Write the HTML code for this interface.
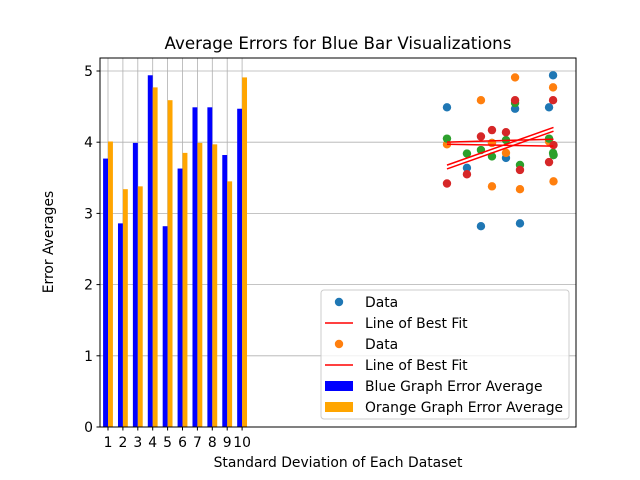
<!DOCTYPE html>
<html><head><meta charset="utf-8"><style>
body{margin:0;background:#fff}
svg{display:block;font-family:"DejaVu Sans","Liberation Sans",sans-serif}
</style></head><body>
<svg id="chart" width="640" height="480">
<rect width="640" height="480" fill="#fff"/>
<g id="grid"></g>
<g id="bars"></g>
<g id="scatter"></g>
<g id="fits"></g>
<rect x="100" y="58" width="476" height="369" fill="none" stroke="#000" stroke-width="1"/>
<g id="ticks"></g>
<text x="338" y="49" font-size="16.7" text-anchor="middle">Average Errors for Blue Bar Visualizations</text>
<text x="338" y="467" font-size="13.9" text-anchor="middle">Standard Deviation of Each Dataset</text>
<text transform="translate(53,242) rotate(-90)" font-size="13.9" text-anchor="middle">Error Averages</text>
<g>
<rect x="321" y="290" width="248" height="129" rx="3" fill="#fff" fill-opacity="0.8" stroke="#ccc"/>
<g><circle cx="339" cy="302" r="4.2" fill="#1f77b4"/><text x="365" y="307" font-size="13.9">Data</text></g>
<g><line x1="325" x2="353" y1="323" y2="323" stroke="red" stroke-width="1.5"/><text x="365" y="328" font-size="13.9">Line of Best Fit</text></g>
<g><circle cx="339" cy="344" r="4.2" fill="#ff7f0e"/><text x="365" y="349" font-size="13.9">Data</text></g>
<g><line x1="325" x2="353" y1="365" y2="365" stroke="red" stroke-width="1.5"/><text x="365" y="370" font-size="13.9">Line of Best Fit</text></g>
<g><rect x="325" y="381" width="28" height="10" fill="#0000ff"/><text x="365" y="391" font-size="13.9">Blue Graph Error Average</text></g>
<g><rect x="325" y="402" width="28" height="10" fill="#ffa500"/><text x="365" y="412" font-size="13.9">Orange Graph Error Average</text></g>
</g>
</svg>
<script>
const categories=[1,2,3,4,5,6,7,8,9,10];
const blueValues=[3.77,2.86,3.99,4.94,2.82,3.63,4.49,4.49,3.82,4.47];
const orangeValues=[4.01,3.34,3.38,4.77,4.59,3.85,3.99,3.97,3.45,4.91];
const yTicks=[0,1,2,3,4,5];
const blueX=[23.75,25.09,26.03,26.77,27.71,28.32,28.65,30.6,30.87,30.9];
const blueY=[4.49,3.64,2.82,3.99,3.78,4.47,2.86,4.49,4.94,3.82];
const orangeX=[23.75,26.03,26.77,28.32,28.65,30.87,30.9,30.6,27.71,26.77];
const orangeY=[3.97,4.59,3.38,4.91,3.34,4.77,3.45,4.01,3.85,3.99];
const greenX=[23.75,25.09,26.03,26.77,27.71,28.32,28.65,30.6,30.9,30.87];
const greenY=[4.05,3.84,3.89,3.8,4.03,4.55,3.68,4.05,3.82,3.85];
const redX=[23.75,25.09,26.03,26.77,27.71,28.32,28.65,30.6,30.87,30.9];
const redY=[3.42,3.55,4.08,4.17,4.14,4.59,3.61,3.72,4.59,3.96];
const NS='http://www.w3.org/2000/svg';
const xs=v=>108+(v-1)*14.9;
const ys=v=>427-v*71.2;
function mk(tag,attrs,parent){const e=document.createElementNS(NS,tag);for(const k in attrs)e.setAttribute(k,attrs[k]);parent.appendChild(e);return e;}
const grid=document.getElementById('grid'),bars=document.getElementById('bars'),sc=document.getElementById('scatter'),fits=document.getElementById('fits'),ticks=document.getElementById('ticks');
yTicks.forEach(t=>{
 const l=mk('line',{x1:100,x2:576,y1:ys(t),y2:ys(t),stroke:'#b0b0b0','stroke-width':0.8},grid);
 
 
 const tk=mk('line',{x1:96.5,x2:100,y1:ys(t),y2:ys(t),stroke:'#000'},ticks);
 
 
 const tx=mk('text',{x:93,y:ys(t)+5,'font-size':13.9,'text-anchor':'end'},ticks);tx.textContent=t;
 
 
});
categories.forEach((c,i)=>{
 const l=mk('line',{x1:xs(c),x2:xs(c),y1:58,y2:427,stroke:'#b0b0b0','stroke-width':0.8},grid);
 
 
 const w=0.33*14.9;
 const b=mk('rect',{x:xs(c)-w,y:ys(blueValues[i]),width:w,height:ys(0)-ys(blueValues[i]),fill:'#0000ff'},bars);
 
 
 const o=mk('rect',{x:xs(c),y:ys(orangeValues[i]),width:w,height:ys(0)-ys(orangeValues[i]),fill:'#ffa500'},bars);
 
 
 const tk=mk('line',{x1:xs(c),x2:xs(c),y1:427,y2:430.5,stroke:'#000'},ticks);
 
 
 const tx=mk('text',{x:xs(c),y:447,'font-size':13.9,'text-anchor':'middle'},ticks);tx.textContent=c;
 
 
});
const series=[[blueX,blueY,'#1f77b4','blue'],[orangeX,orangeY,'#ff7f0e','orange'],[greenX,greenY,'#2ca02c','green'],[redX,redY,'#d62728','red']];
series.forEach(([X,Y,col,nm])=>{
 X.forEach((x,i)=>{
  const p=mk('circle',{cx:xs(x),cy:ys(Y[i]),r:4.2,fill:col},sc);
  
  
 });
});
series.forEach(([X,Y,col,nm])=>{
 const n=X.length,mx=X.reduce((a,b)=>a+b)/n,my=Y.reduce((a,b)=>a+b)/n;
 let sxy=0,sxx=0;X.forEach((x,i)=>{sxy+=(x-mx)*(Y[i]-my);sxx+=(x-mx)*(x-mx);});
 const m=sxy/sxx,b=my-m*mx,x0=Math.min(...X),x1=Math.max(...X);
 const l=mk('line',{x1:xs(x0),y1:ys(m*x0+b),x2:xs(x1),y2:ys(m*x1+b),stroke:'red','stroke-width':1.5},fits);
 
 
});
</script>
</body></html>
